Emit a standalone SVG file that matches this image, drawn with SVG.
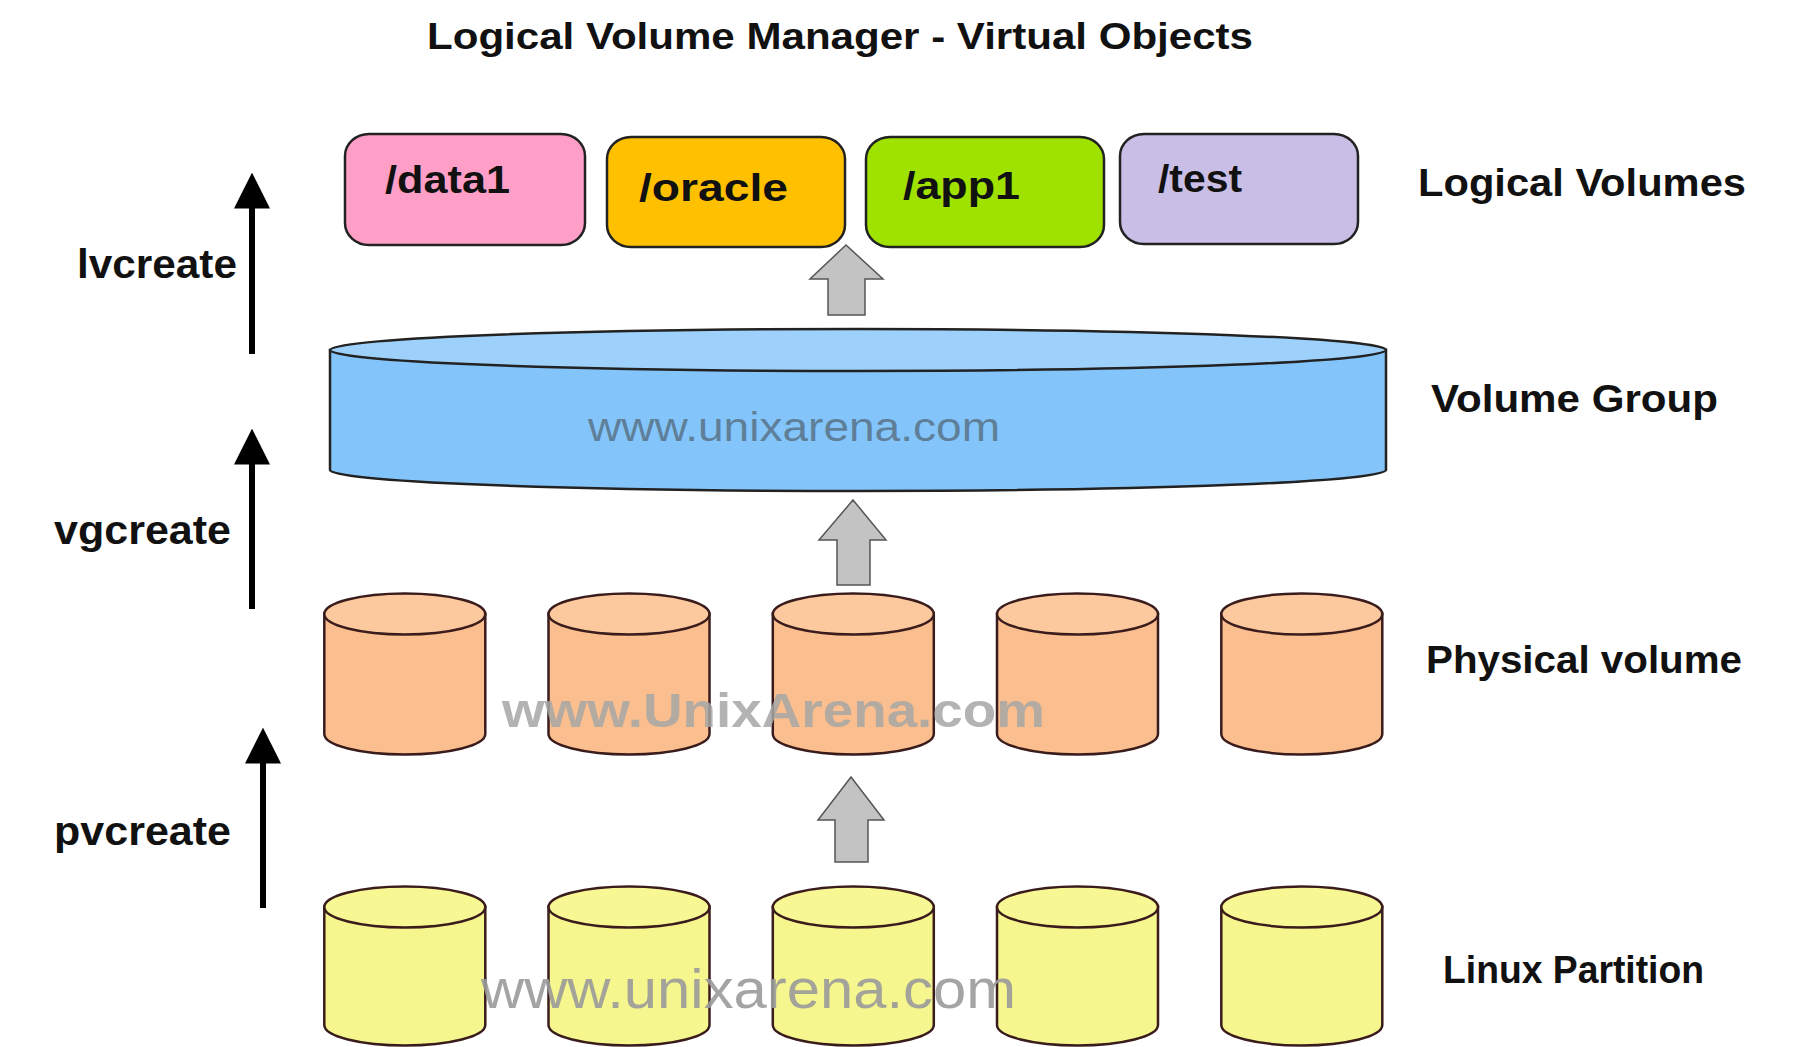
<svg xmlns="http://www.w3.org/2000/svg" xmlns:xlink="http://www.w3.org/1999/xlink" width="1803" height="1047" viewBox="0 0 1803 1047">
<style>
.lbl{font-family:"Liberation Sans","DejaVu Sans",Arial,sans-serif;font-weight:bold;fill:#111;}
.lv{stroke:#222;stroke-width:2.5;}
.cyl{stroke:#3a1c1c;stroke-width:2.5;}
.garrow{fill:#c3c3c3;stroke:#555;stroke-width:1.5;}
.wm{font-family:"Liberation Sans","DejaVu Sans",Arial,sans-serif;}
</style>
<defs>
<marker id="bh" viewBox="0 0 10 10" refX="1" refY="5" markerWidth="6" markerHeight="6.5" orient="auto" markerUnits="strokeWidth">
<path d="M0,0 L10,5 L0,10 Z" fill="#000"/>
</marker>
<g id="pvShape">
<path class="cyl" d="M-80.5,0 V120 A80.5,20.5 0 0 0 80.5,120 V0 Z" fill="#fbbf8f"/>
<ellipse class="cyl" cx="0" cy="0" rx="80.5" ry="20.5" fill="#fcc99e"/>
</g>
<g id="lpShape">
<path class="cyl" d="M-80.5,0 V118 A80.5,20.5 0 0 0 80.5,118 V0 Z" fill="#f6f68f" stroke="#2a2a1a"/>
<ellipse class="cyl" cx="0" cy="0" rx="80.5" ry="20.5" fill="#f7f794" stroke="#2a2a1a"/>
</g>
</defs>
<rect width="1803" height="1047" fill="#ffffff"/>

<text class="lbl" x="427" y="49" font-size="36" textLength="826" lengthAdjust="spacingAndGlyphs">Logical Volume Manager - Virtual Objects</text>

<!-- Logical volumes -->
<g id="lv-data1">
<rect class="lv" x="345" y="134" width="240" height="111" rx="24" ry="22" fill="#ff9fc8"/>
<text class="lbl" x="385" y="193" font-size="38" textLength="125" lengthAdjust="spacingAndGlyphs">/data1</text>
</g>
<g id="lv-oracle">
<rect class="lv" x="607" y="137" width="238" height="110" rx="24" ry="22" fill="#ffc000"/>
<text class="lbl" x="639" y="201" font-size="38" textLength="149" lengthAdjust="spacingAndGlyphs">/oracle</text>
</g>
<g id="lv-app1">
<rect class="lv" x="866" y="137" width="238" height="110" rx="24" ry="22" fill="#9fe200"/>
<text class="lbl" x="903" y="199" font-size="38" textLength="117" lengthAdjust="spacingAndGlyphs">/app1</text>
</g>
<g id="lv-test">
<rect class="lv" x="1120" y="134" width="238" height="110" rx="24" ry="22" fill="#c8bee6"/>
<text class="lbl" x="1158" y="192" font-size="38" textLength="84" lengthAdjust="spacingAndGlyphs">/test</text>
</g>

<!-- Volume group -->
<g id="vg">
<path class="lv" d="M330,350 V470 A528,21 0 0 0 1386,470 V350 Z" fill="#83c5fb"/>
<ellipse class="lv" cx="858" cy="350" rx="528" ry="21" fill="#9dd1fb"/>
<text class="wm" x="588" y="441" font-size="40" fill="#5f7f99" textLength="412" lengthAdjust="spacingAndGlyphs">www.unixarena.com</text>
</g>

<!-- Physical volumes -->
<g id="pv1"><use xlink:href="#pvShape" transform="translate(404.8,614)"/></g>
<g id="pv2"><use xlink:href="#pvShape" transform="translate(629,614)"/></g>
<g id="pv3"><use xlink:href="#pvShape" transform="translate(853.3,614)"/></g>
<g id="pv4"><use xlink:href="#pvShape" transform="translate(1077.5,614)"/></g>
<g id="pv5"><use xlink:href="#pvShape" transform="translate(1301.8,614)"/></g>
<text class="wm" x="502" y="727" font-size="48" font-weight="bold" fill="#a6a6a6" fill-opacity="0.85" textLength="543" lengthAdjust="spacingAndGlyphs">www.UnixArena.com</text>

<!-- Linux partitions -->
<g id="lp1"><use xlink:href="#lpShape" transform="translate(404.8,907)"/></g>
<g id="lp2"><use xlink:href="#lpShape" transform="translate(629,907)"/></g>
<g id="lp3"><use xlink:href="#lpShape" transform="translate(853.3,907)"/></g>
<g id="lp4"><use xlink:href="#lpShape" transform="translate(1077.5,907)"/></g>
<g id="lp5"><use xlink:href="#lpShape" transform="translate(1301.8,907)"/></g>
<text class="wm" x="481" y="1008" font-size="56" fill="#9a9a9a" fill-opacity="0.9" textLength="535" lengthAdjust="spacingAndGlyphs">www.unixarena.com</text>

<!-- Right labels -->
<g id="label-lv"><text class="lbl" x="1418" y="196" font-size="39" textLength="328" lengthAdjust="spacingAndGlyphs">Logical Volumes</text></g>
<g id="label-vg"><text class="lbl" x="1431" y="412" font-size="39" textLength="287" lengthAdjust="spacingAndGlyphs">Volume Group</text></g>
<g id="label-pv"><text class="lbl" x="1426" y="673" font-size="39" textLength="316" lengthAdjust="spacingAndGlyphs">Physical volume</text></g>
<g id="label-lp"><text class="lbl" x="1443" y="983" font-size="39" textLength="261" lengthAdjust="spacingAndGlyphs">Linux Partition</text></g>

<!-- Left labels -->
<g id="label-lvcreate"><text class="lbl" x="77" y="278" font-size="40" textLength="160" lengthAdjust="spacingAndGlyphs">lvcreate</text></g>
<g id="label-vgcreate"><text class="lbl" x="54" y="544" font-size="40" textLength="177" lengthAdjust="spacingAndGlyphs">vgcreate</text></g>
<g id="label-pvcreate"><text class="lbl" x="54" y="845" font-size="40" textLength="177" lengthAdjust="spacingAndGlyphs">pvcreate</text></g>

<!-- Connectors -->
<g id="connectors">
<line x1="252" y1="354" x2="252" y2="205" stroke="#000" stroke-width="6" marker-end="url(#bh)"/>
<line x1="252" y1="609" x2="252" y2="461" stroke="#000" stroke-width="6" marker-end="url(#bh)"/>
<line x1="263" y1="908" x2="263" y2="760" stroke="#000" stroke-width="6" marker-end="url(#bh)"/>
<polygon class="garrow" points="846,245 883,279 865,279 865,315 828,315 828,279 810,279"/>
<polygon class="garrow" points="853,500 886,540 870,540 870,585 837,585 837,540 819,540"/>
<polygon class="garrow" points="851,777 884,820 868,820 868,862 835,862 835,820 818,820"/>
</g>
</svg>
